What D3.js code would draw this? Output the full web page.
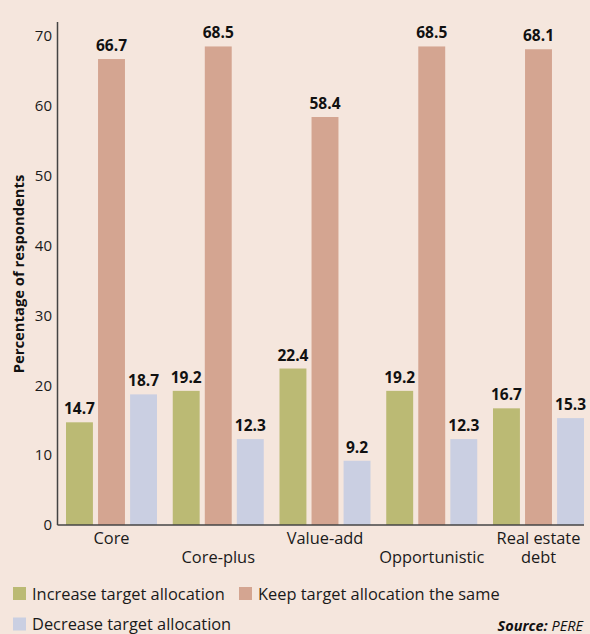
<!DOCTYPE html>
<html>
<head>
<meta charset="utf-8">
<script src="https://cdn.jsdelivr.net/npm/d3@7/dist/d3.min.js"></script>
<style>
  html, body { margin: 0; padding: 0; background: #f5e6dd; }
  svg { display: block; font-family: "Open Sans", Lato, sans-serif; }
</style>
</head>
<body>
<svg id="chart" width="590" height="634"></svg>
<script>
// Strategy categories and survey shares (% of respondents)
const categories = ["Core", "Core-plus", "Value-add", "Opportunistic", "Real estate debt"];
const categoryLines = [["Core"], ["Core-plus"], ["Value-add"], ["Opportunistic"], ["Real estate", "debt"]];
const seriesNames = ["Increase target allocation", "Keep target allocation the same", "Decrease target allocation"];
const increaseValues = [14.7, 19.2, 22.4, 19.2, 16.7];
const keepValues = [66.7, 68.5, 58.4, 68.5, 68.1];
const decreaseValues = [18.7, 12.3, 9.2, 12.3, 15.3];
const yTicks = [0, 10, 20, 30, 40, 50, 60, 70];
const colors = ["#bbba74", "#d4a591", "#cacfe2"];

const seriesValues = [increaseValues, keepValues, decreaseValues];

const svg = d3.select("#chart");

const axisX = 57.5, baseY = 525, topY = 22, rightX = 584;

const x0 = d3.scaleBand()
  .domain(categories)
  .range([66, 584])
  .paddingInner(0.1475)
  .paddingOuter(0);

const x1 = d3.scaleBand()
  .domain(seriesNames)
  .range([0, x0.bandwidth()])
  .paddingInner(0.16);

const y = d3.scaleLinear().domain([0, 72]).range([baseY, topY]);

// Bars with value labels
categories.forEach((cat, ci) => {
  const g = svg.append("g").attr("transform", `translate(${x0(cat)},0)`);
  seriesNames.forEach((s, si) => {
    const v = seriesValues[si][ci];
    g.append("rect")
      .attr("x", x1(s))
      .attr("y", y(v))
      .attr("width", x1.bandwidth())
      .attr("height", y(0) - y(v))
      .attr("fill", colors[si]);
    g.append("text")
      .attr("x", x1(s) + x1.bandwidth() / 2)
      .attr("y", y(v) - 8)
      .attr("text-anchor", "middle")
      .attr("font-size", 15.5)
      .attr("font-weight", 700)
      .attr("fill", "#111")
      .text(v.toFixed(1));
  });
});

// Y axis
const yAxis = d3.axisLeft(y).tickValues(yTicks).tickSize(0).tickPadding(5.5);
const yg = svg.append("g").attr("transform", `translate(${axisX},0)`).call(yAxis);
yg.select(".domain").remove();
yg.selectAll("text")
  .attr("font-size", 15)
  .attr("font-family", "'Open Sans', sans-serif")
  .attr("fill", "#1a1a1a");

svg.append("line")
  .attr("x1", axisX).attr("x2", axisX)
  .attr("y1", y(72)).attr("y2", baseY)
  .attr("stroke", "#444").attr("stroke-width", 1.5);
svg.append("line")
  .attr("x1", axisX).attr("x2", rightX)
  .attr("y1", baseY).attr("y2", baseY)
  .attr("stroke", "#444").attr("stroke-width", 1.5);

svg.append("text")
  .attr("transform", `translate(24,${(175 + 373) / 2}) rotate(-90)`)
  .attr("text-anchor", "middle")
  .attr("font-size", 14.8)
  .attr("font-weight", 700)
  .attr("fill", "#111")
  .text("Percentage of respondents");

// Category labels, alternating rows; each line is its own text
categoryLines.forEach((lines, ci) => {
  const cx = x0(categories[ci]) + x0.bandwidth() / 2;
  const row = ci % 2 === 0 ? 0 : 1;
  lines.forEach((ln, li) => {
    svg.append("text")
      .attr("x", cx)
      .attr("y", 544 + (row + li) * 19)
      .attr("text-anchor", "middle")
      .attr("font-size", 16.4)
      .attr("fill", "#1a1a1a")
      .text(ln);
  });
});

// Legend
const legendItems = [
  { x: 13, y: 587, name: seriesNames[0], color: colors[0] },
  { x: 239, y: 587, name: seriesNames[1], color: colors[1] },
  { x: 13, y: 617.5, name: seriesNames[2], color: colors[2] }
];
legendItems.forEach(d => {
  svg.append("rect").attr("x", d.x).attr("y", d.y).attr("width", 13).attr("height", 13).attr("fill", d.color);
  svg.append("text")
    .attr("x", d.x + 19).attr("y", d.y + 12.5)
    .attr("font-size", 16.4).attr("fill", "#1a1a1a")
    .text(d.name);
});

const src = svg.append("text")
  .attr("x", 583).attr("y", 630.5)
  .attr("text-anchor", "end")
  .attr("font-size", 14.5).attr("font-style", "italic").attr("fill", "#111");
src.append("tspan").attr("font-weight", 700).text("Source: ");
src.append("tspan").text("PERE");
</script>
</body>
</html>
